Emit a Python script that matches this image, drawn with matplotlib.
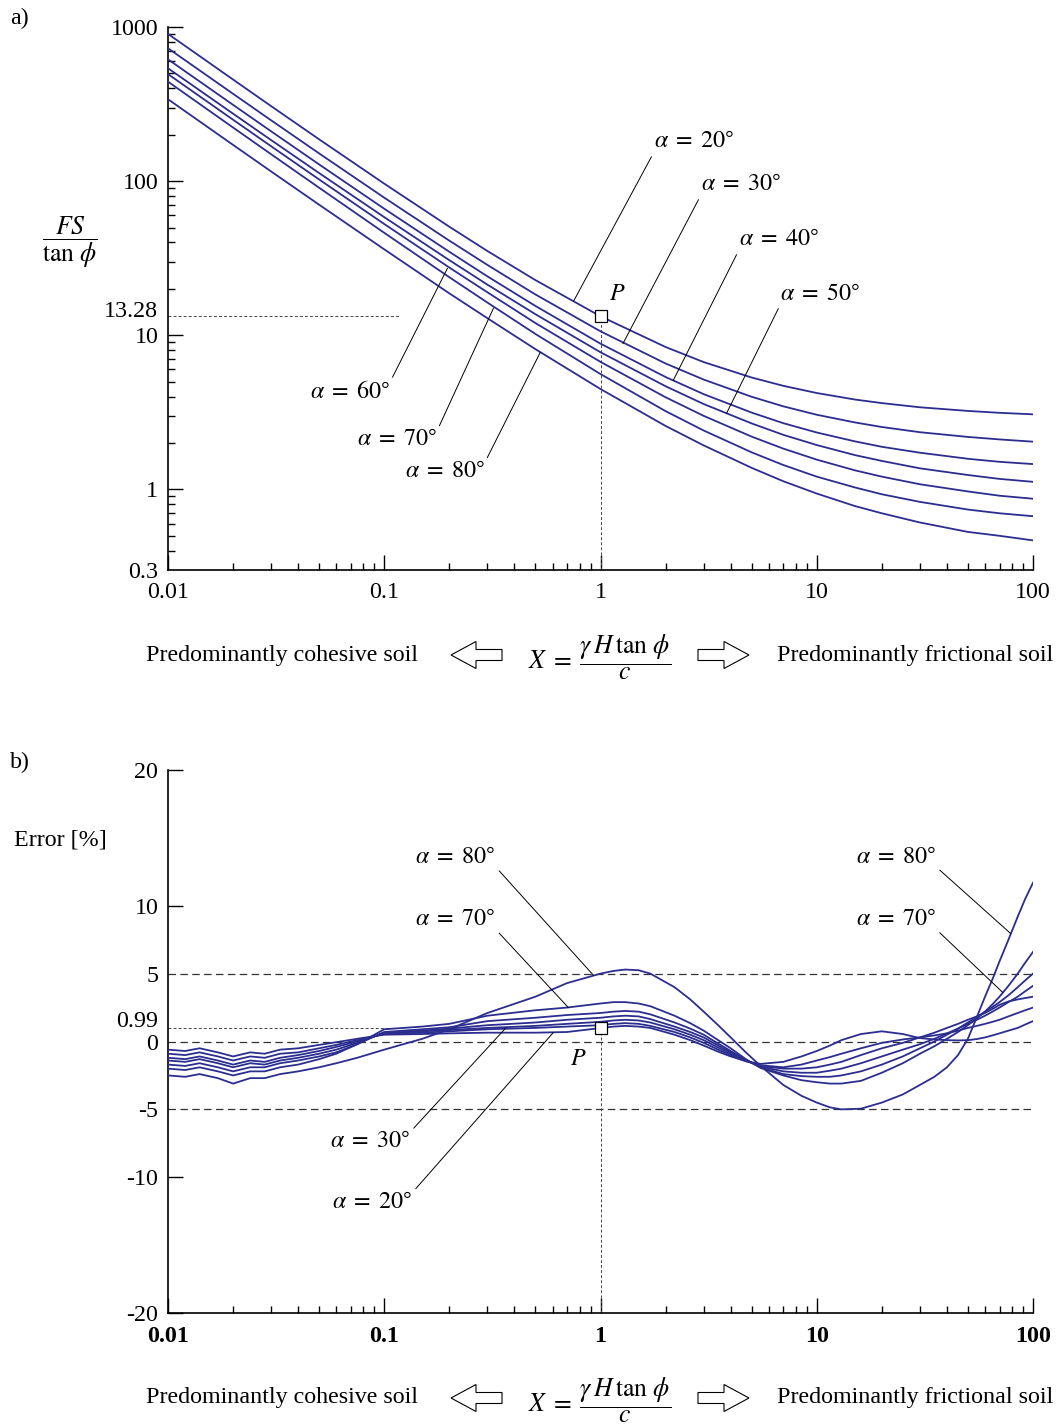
import matplotlib
matplotlib.use('Agg')
import matplotlib.pyplot as plt
import numpy as np
from matplotlib.patches import FancyArrow
from matplotlib.transforms import IdentityTransform
from matplotlib.ticker import LogLocator, NullFormatter

plt.rcParams['font.family'] = 'serif'
plt.rcParams['font.serif'] = ['Liberation Serif', 'DejaVu Serif']
plt.rcParams['mathtext.fontset'] = 'stix'
plt.rcParams['font.size'] = 17.3

# _____________________________________________________________________________
#                           Dados
# _____________________________________________________________________________

alphas = [20, 30, 40, 50, 60, 70, 80]

# a) FS/tan(phi) x X
x_fs = [0.01, 0.02, 0.03, 0.05, 0.1, 0.2, 0.3, 0.5, 1, 2, 3, 5, 7, 10, 15,
        20, 30, 50, 70, 100]
fs_20 = [902, 456, 306.5, 186.7, 96.3, 50.6, 35.2, 22.8, 13.28, 8.39, 6.70,
         5.32, 4.70, 4.22, 3.83, 3.63, 3.41, 3.23, 3.14, 3.07]
fs_30 = [728, 368.5, 248.0, 151.3, 78.1, 41.1, 28.6, 18.4, 10.61, 6.56, 5.16,
         3.99, 3.46, 3.05, 2.72, 2.54, 2.35, 2.19, 2.11, 2.04]
fs_40 = [617, 312.4, 210.4, 128.3, 66.2, 34.8, 24.1, 15.5, 8.82, 5.36, 4.15,
         3.15, 2.69, 2.34, 2.05, 1.89, 1.73, 1.58, 1.51, 1.46]
fs_50 = [540, 273.9, 184.6, 112.8, 58.4, 30.7, 21.3, 13.7, 7.76, 4.67, 3.58,
         2.68, 2.26, 1.94, 1.67, 1.53, 1.37, 1.24, 1.17, 1.12]
fs_60 = [494.7, 250.2, 168.3, 102.5, 52.7, 27.5, 19.0, 12.0, 6.72, 3.96,
         3.00, 2.20, 1.84, 1.56, 1.33, 1.21, 1.08, 0.97, 0.91, 0.87]
fs_70 = [442, 222.7, 149.4, 90.6, 46.2, 23.8, 16.3, 10.2, 5.60, 3.22, 2.41,
         1.74, 1.44, 1.21, 1.03, 0.93, 0.83, 0.74, 0.70, 0.67]
fs_80 = [340, 171.8, 115.5, 70.3, 36.1, 18.7, 12.9, 8.13, 4.48, 2.58, 1.93,
         1.38, 1.13, 0.94, 0.78, 0.70, 0.61, 0.53, 0.50, 0.467]

# b) Erro [%] x X
x_err = [0.01, 0.012, 0.014, 0.017, 0.02, 0.024, 0.028, 0.033, 0.04, 0.05,
         0.06, 0.075, 0.1,
         0.15, 0.2, 0.3, 0.5, 0.7,
         1.0, 1.15, 1.3, 1.5, 1.7,
         2.2, 2.6, 3, 3.5, 4, 4.7, 5.5,
         7, 8.5, 10, 11.5, 13,
         16, 20, 25, 30,
         35, 40, 45, 50, 55, 60, 65, 70,
         77, 85, 92, 100]
err_20 = [-0.6, -0.7, -0.5, -0.8, -1.1, -0.8, -0.9, -0.6, -0.5, -0.25,
          -0.05, 0.2, 0.5,
          0.55, 0.6, 0.65, 0.65, 0.7,
          0.99, 1.1, 1.15, 1.1, 1.0,
          0.5, 0.1, -0.3, -0.75, -1.1, -1.45, -1.65,
          -1.5, -1.1, -0.7, -0.3, 0.1,
          0.55, 0.75, 0.55, 0.25,
          0.15, 0.1, 0.08, 0.1, 0.18, 0.3, 0.45, 0.6,
          0.8, 1.0, 1.25, 1.5]
err_30 = [-0.9, -1.0, -0.8, -1.1, -1.4, -1.1, -1.2, -0.9, -0.8, -0.5,
          -0.25, 0.1, 0.55,
          0.65, 0.75, 0.9, 1.0, 1.1,
          1.2, 1.3, 1.35, 1.3, 1.15,
          0.7, 0.3, -0.1, -0.6, -1.0, -1.45, -1.75,
          -1.9, -1.7, -1.4, -1.15, -0.9,
          -0.5, -0.1, 0.15, 0.3,
          0.45, 0.6, 0.8, 1.0, 1.15, 1.3, 1.45, 1.6,
          1.85, 2.1, 2.3, 2.5]
err_40 = [-1.2, -1.3, -1.1, -1.4, -1.7, -1.4, -1.5, -1.2, -1.0, -0.7,
          -0.4, 0.0, 0.6,
          0.75, 0.85, 1.0, 1.15, 1.3,
          1.45, 1.55, 1.6, 1.55, 1.4,
          0.9, 0.5, 0.1, -0.45, -0.9, -1.4, -1.8,
          -2.0, -2.0, -1.9, -1.7, -1.5,
          -1.0, -0.5, -0.1, 0.3,
          0.65, 1.0, 1.3, 1.6, 1.85, 2.1, 2.4, 2.7,
          2.95, 3.1, 3.2, 3.3]
err_50 = [-1.4, -1.5, -1.3, -1.6, -1.9, -1.6, -1.7, -1.4, -1.2, -0.9,
          -0.6, -0.1, 0.65,
          0.8, 0.95, 1.2, 1.4, 1.6,
          1.75, 1.85, 1.9, 1.85, 1.65,
          1.1, 0.7, 0.3, -0.3, -0.8, -1.4, -1.85,
          -2.2, -2.3, -2.3, -2.15, -2.0,
          -1.6, -1.1, -0.6, -0.2,
          0.2, 0.6, 0.95, 1.3, 1.6, 1.9, 2.2, 2.5,
          2.9, 3.3, 3.7, 4.1]
err_60 = [-1.7, -1.8, -1.6, -1.9, -2.2, -1.9, -1.9, -1.6, -1.4, -1.1,
          -0.8, -0.2, 0.7,
          0.9, 1.05, 1.5, 1.75, 1.95,
          2.1, 2.2, 2.25, 2.2, 2.0,
          1.4, 0.95, 0.5, -0.15, -0.7, -1.35, -1.9,
          -2.4, -2.55, -2.6, -2.6, -2.5,
          -2.2, -1.7, -1.1, -0.5,
          0.0, 0.5, 0.95, 1.4, 1.8, 2.2, 2.55, 2.9,
          3.4, 4.0, 4.5, 5.0]
err_70 = [-2.0, -2.1, -1.9, -2.2, -2.5, -2.2, -2.2, -1.9, -1.7, -1.3,
          -0.9, -0.2, 0.9,
          1.1, 1.3, 1.9, 2.3, 2.5,
          2.8, 2.9, 2.9, 2.8, 2.6,
          1.9, 1.35, 0.8, 0.1, -0.5, -1.3, -1.95,
          -2.5, -2.85, -3.0, -3.1, -3.1,
          -2.9, -2.3, -1.6, -0.9,
          -0.35, 0.2, 0.7, 1.2, 1.7, 2.2, 2.75, 3.3,
          4.1, 5.0, 5.8, 6.6]
err_80 = [-2.5, -2.6, -2.4, -2.7, -3.1, -2.7, -2.7, -2.4, -2.2, -1.9,
          -1.6, -1.2, -0.6,
          0.2, 0.9, 2.1, 3.3, 4.3,
          5.0, 5.2, 5.3, 5.25, 5.0,
          4.0, 3.1, 2.2, 1.2, 0.3, -0.8, -1.8,
          -3.2, -4.0, -4.5, -4.85, -5.0,
          -4.95, -4.5, -3.9, -3.2,
          -2.6, -1.9, -1.0, 0.2, 1.8, 3.3, 4.6, 5.9,
          7.5, 9.2, 10.5, 11.7]

# ponto P
p_x = 1.0
p_fs = 13.28
p_err = 0.99

x_ticks = [0.01, 0.1, 1, 10, 100]
x_ticklabels = ['0.01', '0.1', '1', '10', '100']
fs_ticks = [0.3, 1, 10, 100, 1000]
fs_ticklabels = ['0.3', '1', '10', '100', '1000']
err_ticks = [-20, -10, -5, 0, 5, 10, 20]
err_ticklabels = ['-20', '-10', '-5', '0', '5', '10', '20']

# rotulos (alfa, ponta na curva, posicao do texto, canto de saida)
labels_a = [
    (20, (0.75, 16.6), (2.70, 179), (0, 0)),
    (30, (1.27, 8.83), (4.45, 94.2), (0, 0)),
    (40, (2.17, 5.10), (6.67, 41.4), (0, 0)),
    (50, (3.82, 3.10), (10.4, 18.5), (0, 0)),
    (60, (0.196, 27.2), (0.0697, 4.27), (1, 1)),
    (70, (0.32, 15.0), (0.115, 2.08), (1, 1)),
    (80, (0.527, 7.76), (0.191, 1.29), (1, 1)),
]
labels_b = [
    (80, (0.93, 4.86), (0.213, 13.5), (1, 0.1)),
    (70, (0.71, 2.5), (0.213, 8.9), (1, 0.1)),
    (30, (0.363, 0.96), (0.086, -7.44), (1, 1)),
    (20, (0.605, 0.66), (0.088, -11.9), (1, 1)),
    (80, (79, 7.94), (23.2, 13.5), (1, 0.1)),
    (70, (72.6, 3.6), (23.2, 8.9), (1, 0.1)),
]

# _____________________________________________________________________________
#                       Definicoes graficas
# _____________________________________________________________________________
W, H = 1060, 1426
LINE = '#2b2d8f'
long_dash = (0, (6, 3.5))
short_dash = (0, (3, 2.2))

fig = plt.figure(figsize=(W / 100, H / 100), dpi=100)
ax1 = fig.add_axes([168 / W, 1 - 570 / H, 865 / W, 543 / H])
ax2 = fig.add_axes([168 / W, 1 - 1313 / H, 865 / W, 543 / H])


def alpha_txt(a):
    return r'$\alpha\;=\;%d^{◦}$' % a


def style_axes(ax):
    for s in ['top', 'right']:
        ax.spines[s].set_visible(False)
    for s in ['left', 'bottom']:
        ax.spines[s].set_linewidth(1.2)
    ax.tick_params(which='both', direction='in', top=False, right=False,
                   width=1.0, colors='black')
    ax.tick_params(which='major', length=10.8)
    ax.tick_params(which='minor', length=5)
    ax.tick_params(axis='x', pad=9)
    ax.tick_params(axis='y', pad=7)
    ax.set_xscale('log')
    ax.set_xlim(0.01, 100)
    ax.set_xticks(x_ticks)
    ax.set_xticklabels(x_ticklabels)
    ax.xaxis.set_minor_locator(LogLocator(base=10, subs=np.arange(2, 10)))
    ax.xaxis.set_minor_formatter(NullFormatter())


def side_label(ax, val, txt, dy):
    # rotulo extra no eixo y, sem marca, levemente acima da linha
    ax.annotate(txt, xy=(0, val), xycoords=('axes fraction', 'data'),
                xytext=(-7, dy), textcoords='offset points',
                ha='right', va='center')


# _____________________________________________________________________________
#                           a) FS / tan(phi)
# _____________________________________________________________________________
style_axes(ax1)
ax1.set_yscale('log')
ax1.set_ylim(0.3, 1000)
ax1.set_yticks(fs_ticks)
ax1.set_yticklabels(fs_ticklabels)
ax1.yaxis.set_minor_locator(LogLocator(base=10, subs=np.arange(2, 10)))
ax1.yaxis.set_minor_formatter(NullFormatter())
ax1.yaxis.get_major_ticks()[0].tick1line.set_visible(False)
side_label(ax1, p_fs, '13.28', 3.5)

for fs in [fs_20, fs_30, fs_40, fs_50, fs_60, fs_70, fs_80]:
    ax1.plot(x_fs, fs, color=LINE, lw=1.3, zorder=3)

ax1.hlines(p_fs, 0.01, 0.117, colors='#444444', lw=0.7, linestyles=short_dash)
ax1.vlines(p_x, 0.3, p_fs, colors='#444444', lw=0.7, linestyles=short_dash)
ax1.plot(p_x, p_fs, marker='s', ms=8, mfc='white', mec='black', mew=0.9,
         zorder=5)
ax1.text(1.19, 18.5, '$P$', ha='center', va='center')

for a, xy, xyt, rp in labels_a:
    ax1.annotate(alpha_txt(a), xy=xy, xytext=xyt,
                 ha='center', va='center',
                 arrowprops=dict(arrowstyle='-', color='black', lw=0.7,
                                 shrinkA=1, shrinkB=0, relpos=rp))

# _____________________________________________________________________________
#                           b) Erro
# _____________________________________________________________________________
style_axes(ax2)
ax2.set_ylim(-20, 20)
ax2.set_yticks(err_ticks)
ax2.set_yticklabels(err_ticklabels)
for t, v in zip(ax2.yaxis.get_major_ticks(), err_ticks):
    if v not in (-20, -10, 10, 20):
        t.tick1line.set_visible(False)
for lb in ax2.get_xticklabels():
    lb.set_fontweight('bold')
side_label(ax2, p_err, '0.99', 5)

for yv in [-5, 0, 5]:
    ax2.axhline(yv, color='#333333', lw=0.9, ls=long_dash, zorder=1)
ax2.hlines(p_err, 0.01, 0.117, colors='#444444', lw=0.7, linestyles=short_dash)
ax2.vlines(p_x, -20, p_err, colors='#444444', lw=0.7, linestyles=short_dash)

for err in [err_20, err_30, err_40, err_50, err_60, err_70, err_80]:
    ax2.plot(x_err, err, color=LINE, lw=1.3, zorder=3)

ax2.plot(p_x, p_err, marker='s', ms=8, mfc='white', mec='black', mew=0.9,
         zorder=5)
ax2.text(0.79, -1.3, '$P$', ha='center', va='center')

for a, xy, xyt, rp in labels_b:
    ax2.annotate(alpha_txt(a), xy=xy, xytext=xyt,
                 ha='center', va='center',
                 arrowprops=dict(arrowstyle='-', color='black', lw=0.7,
                                 shrinkA=1, shrinkB=0, relpos=rp))

# _____________________________________________________________________________
#                   Textos fora dos eixos
# _____________________________________________________________________________


def fx(px):
    return px / W


def fy(py):
    return 1 - py / H


fig.text(fx(10), fy(18), 'a)', ha='left', va='center')
fig.text(fx(10), fy(762), 'b)', ha='left', va='center')
fig.text(fx(70), fy(242), r'$\dfrac{FS}{\tan\,\phi}$', ha='center',
         va='center', fontsize=18.5)
fig.text(fx(60), fy(840), 'Error [%]', ha='center', va='center')

for py in [655, 1398]:
    fig.text(fx(418), fy(py), 'Predominantly cohesive soil',
             ha='right', va='center')
    fig.text(fx(1053), fy(py), 'Predominantly frictional soil',
             ha='right', va='center')
    fig.text(fx(600), fy(py + 2),
             r'$X\;=\;\dfrac{\gamma\, H\, \tan\,\phi}{c}$',
             ha='center', va='center', fontsize=18.5)
    yd = H - py
    fig.add_artist(FancyArrow(502, yd, -51, 0, width=11, head_width=27,
                              head_length=25, length_includes_head=True,
                              transform=IdentityTransform(), fc='white',
                              ec='black', lw=0.8))
    fig.add_artist(FancyArrow(698, yd, 51, 0, width=11, head_width=27,
                              head_length=25, length_includes_head=True,
                              transform=IdentityTransform(), fc='white',
                              ec='black', lw=0.8))

fig.savefig('out.png', dpi=100)
